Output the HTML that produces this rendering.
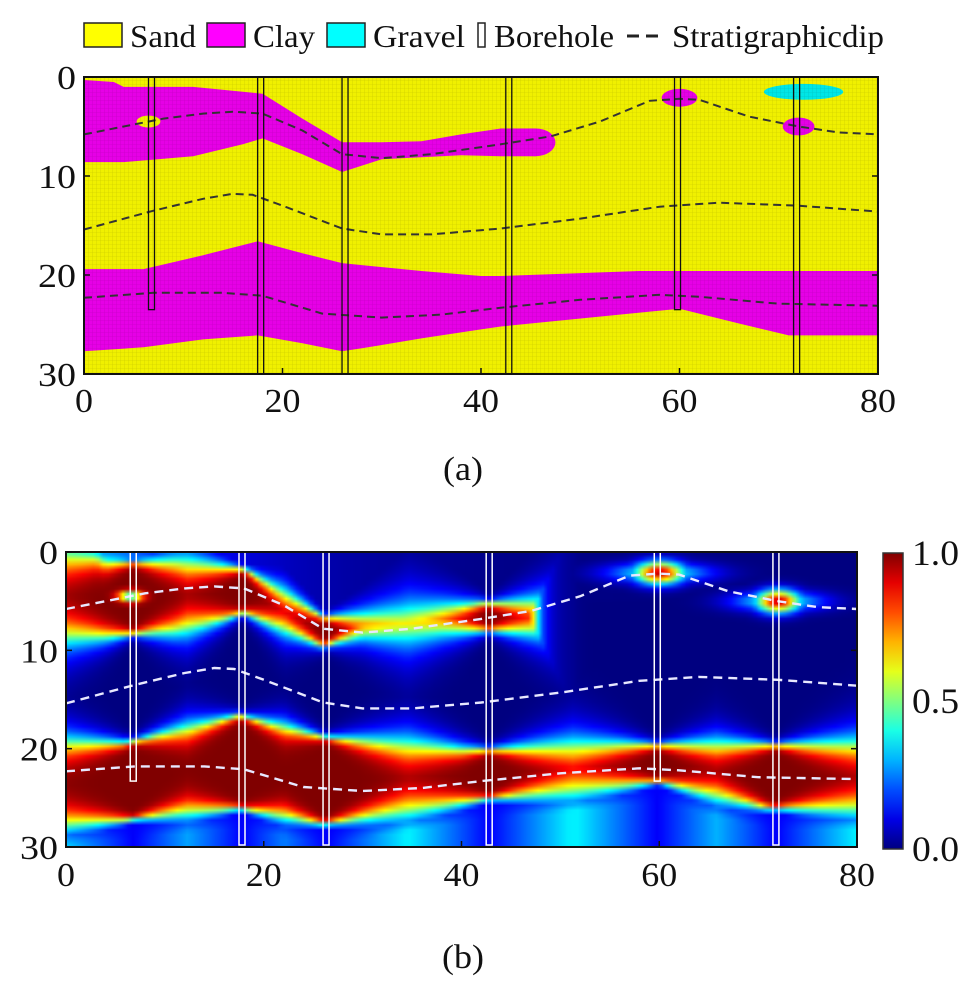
<!DOCTYPE html>
<html><head><meta charset="utf-8">
<style>
html,body{margin:0;padding:0;background:#fff;}
#root{position:relative;width:980px;height:992px;overflow:hidden;background:#fff;}
#heat{position:absolute;left:66px;top:552px;width:791px;height:295px;image-rendering:auto;}
svg{position:absolute;left:0;top:0;}
text{font-family:"Liberation Serif",serif;fill:#111;}
</style></head>
<body>
<div id="root">
<canvas id="heat" width="160" height="60"></canvas>
<svg id="svg" width="980" height="992" viewBox="0 0 980 992"></svg>
</div>
<script>
// ---- data ----
const upperX      = [0,   3,   4,  11,  16,  18,  22,  26,  30,  34,  38,  42,  45.5];
const upperTop    = [0.3, 0.5, 1.0,1.0, 1.5, 1.7, 4.2, 6.6, 6.6, 6.5, 5.8, 5.2, 5.2];
const upperBottom = [8.6, 8.6, 8.6,8.0, 6.8, 6.2, 7.8, 9.6, 8.3, 8.1, 7.9, 8.0, 8.0];
const lowerX      = [0,   6,   12,  17.5, 22,  26,  28,  34,  40,  42,  56,  60,  66,  71,  80];
const lowerTop    = [19.4,19.4,18.0,16.6, 17.8,18.8,19.0,19.6,20.1,20.1,19.6,19.6,19.6,19.6,19.6];
const lowerBottom = [27.7,27.3,26.5,26.1, 26.9,27.7,27.4,26.4,25.5,25.2,23.8,23.4,24.9,26.1,26.1];
const clayBlobs   = [[60,2.1,1.8,0.8],[72,5.0,1.6,0.8]];   // x, depth, rx, ry
const sandHoles   = [[6.5,4.5,1.2,0.5]];
const gravelBlobs = [[72.5,1.5,4.0,0.7]];
const dipX  = [0,4,8,12,15,18,22,26,30,35,42,47,52,57,60,62,67,72,76,80];
const dip1  = [5.8,5.0,4.2,3.7,3.5,3.7,5.4,7.8,8.2,7.8,6.8,6.0,4.5,2.4,2.2,2.3,4.0,5.0,5.6,5.8];
const dip2X = [0,7,12,15,17,20,26,30,35,42,50,58,64,72,80];
const dip2  = [15.4,13.5,12.3,11.8,11.9,13.0,15.3,15.9,15.9,15.3,14.3,13.1,12.7,13.0,13.6];
const dip3X = [0,7,14,18,24,30,36,42,50,58,62,70,80];
const dip3  = [22.3,21.8,21.8,22.1,23.9,24.3,24.0,23.3,22.5,22.0,22.2,22.9,23.1];
const boreX     = [6.8,17.8,26.3,42.8,59.8,71.8];
const boreDepth = [23.5,30,30,30,23.5,30];
const xTicks = [0,20,40,60,80];
const yTicks = [0,10,20,30];
const cbTicks = [0.0,0.5,1.0];
const legendLabels = ["Sand","Clay","Gravel","Borehole","Stratigraphicdip"];

// ---- scales ----
const A = {x0:84,x1:878,y0:77,y1:374};
const B = {x0:66,x1:857,y0:552,y1:847};
const sx = (P,v)=>P.x0+v*(P.x1-P.x0)/80;
const sy = (P,v)=>P.y0+v*(P.y1-P.y0)/30;
const NS="http://www.w3.org/2000/svg";
const svg=document.getElementById('svg');
function mk(tag,attrs,parent){const e=document.createElementNS(NS,tag);for(const k in attrs)e.setAttribute(k,attrs[k]);(parent||svg).appendChild(e);return e;}
function interp(xs,ys,x){if(x<=xs[0])return ys[0];for(let i=1;i<xs.length;i++){if(x<=xs[i]){const t=(x-xs[i-1])/(xs[i]-xs[i-1]);return ys[i-1]+t*(ys[i]-ys[i-1]);}}return ys[ys.length-1];}
function pathOf(P,xs,ys){return xs.map((x,i)=>(i?'L':'M')+sx(P,x).toFixed(1)+','+sy(P,ys[i]).toFixed(1)).join(' ');}
function polyOf(P,xs,top,bot){let d=xs.map((x,i)=>(i?'L':'M')+sx(P,x).toFixed(1)+','+sy(P,top[i]).toFixed(1)).join(' ');for(let i=xs.length-1;i>=0;i--)d+=' L'+sx(P,xs[i]).toFixed(1)+','+sy(P,bot[i]).toFixed(1);return d+'Z';}
function label(g,x,y,str,size,anchor,len){const t=mk('text',{x:x,y:y,'font-size':size,'text-anchor':anchor,textLength:len,lengthAdjust:'spacingAndGlyphs'},g);t.textContent=str;return t;}

// ---- legend ----
const lg=mk('g',{},svg);

const legX=[84,207,327,478,627];
const legLen=[66,62,92,120,212];
const legCol=['#ffff00','#ff00ff','#00ffff',null,null];
legendLabels.forEach((lab,i)=>{
  const g=mk('g',{},lg);
  
  
  let tx;
  if(legCol[i]){mk('rect',{x:legX[i],y:23,width:38,height:24,fill:legCol[i],stroke:'#222','stroke-width':1.5},g);tx=legX[i]+46;}
  else if(lab==='Borehole'){mk('rect',{x:legX[i],y:23,width:7,height:24,fill:'#fff',stroke:'#222','stroke-width':1.5},g);tx=legX[i]+16;}
  else {mk('line',{x1:legX[i],y1:36,x2:legX[i]+34,y2:36,stroke:'#222','stroke-width':3,'stroke-dasharray':'12,7'},g);tx=legX[i]+45;}
  label(g,tx,47,lab,32,'start',legLen[i]);
});

// ---- panel (a) ----
const pa=mk('g',{},svg);

mk('rect',{x:A.x0,y:A.y0,width:A.x1-A.x0,height:A.y1-A.y0,fill:'#f0f000'},pa);
const pat=mk('pattern',{id:'grid',width:4,height:4,patternUnits:'userSpaceOnUse'},mk('defs',{},svg));
mk('path',{d:'M4,0 L0,0 0,4',fill:'none',stroke:'rgba(0,0,0,0.16)','stroke-width':0.6},pat);
const cu=mk('path',{d:polyOf(A,upperX,upperTop,upperBottom),fill:'#e600e6'},pa);

mk('ellipse',{cx:sx(A,45.5),cy:sy(A,6.6),rx:2*9.925,ry:1.4*9.9,fill:'#e600e6'},pa);
const cl=mk('path',{d:polyOf(A,lowerX,lowerTop,lowerBottom),fill:'#e600e6'},pa);

clayBlobs.forEach(b=>{const e=mk('ellipse',{cx:sx(A,b[0]),cy:sy(A,b[1]),rx:b[2]*9.925,ry:b[3]*9.9+1,fill:'#e600e6'},pa);});
sandHoles.forEach(b=>{mk('ellipse',{cx:sx(A,b[0]),cy:sy(A,b[1]),rx:b[2]*9.925,ry:b[3]*9.9+1,fill:'#f0f000'},pa);});
gravelBlobs.forEach(b=>{const e=mk('ellipse',{cx:sx(A,b[0]),cy:sy(A,b[1]),rx:b[2]*9.925,ry:b[3]*9.9+1,fill:'#00e6e6'},pa);});
mk('rect',{x:A.x0,y:A.y0,width:A.x1-A.x0,height:A.y1-A.y0,fill:'url(#grid)'},pa);
[[dipX,dip1],[dip2X,dip2],[dip3X,dip3]].forEach((d,i)=>{const p=mk('path',{d:pathOf(A,d[0],d[1]),fill:'none',stroke:'#333','stroke-width':2,'stroke-dasharray':'8,5'},pa);});
boreX.forEach((x,i)=>{const r=mk('rect',{x:sx(A,x)-3,y:A.y0,width:6,height:sy(A,boreDepth[i])-A.y0,fill:'none',stroke:'#111','stroke-width':1.3},pa);});

function axes(P,g,xlabY,ylabX){
  mk('rect',{x:P.x0,y:P.y0,width:P.x1-P.x0,height:P.y1-P.y0,fill:'none',stroke:'#111','stroke-width':2},g);
  xTicks.forEach(v=>{const x=sx(P,v);mk('line',{x1:x,y1:P.y1,x2:x,y2:P.y1-6,stroke:'#111','stroke-width':1.5},g);
    const t=label(g,x,xlabY,String(v),34,'middle',String(v).length*18);
    });
  yTicks.forEach(v=>{const y=sy(P,v);mk('line',{x1:P.x0,y1:y,x2:P.x0+6,y2:y,stroke:'#111','stroke-width':1.5},g);mk('line',{x1:P.x1,y1:y,x2:P.x1-6,y2:y,stroke:'#111','stroke-width':1.5},g);
    const t=label(g,ylabX,y+12,String(v),34,'end',String(v).length*19);
    });
}
axes(A,pa,412,76);
const ca=label(svg,463,480,'(a)',34,'middle',40);


// ---- panel (b) heatmap ----
function jet(v){v=Math.max(0,Math.min(1,v));const r=Math.min(4*v-1.5,-4*v+4.5),g=Math.min(4*v-0.5,-4*v+3.5),b=Math.min(4*v+0.5,-4*v+2.5);return [r,g,b].map(c=>Math.round(255*Math.max(0,Math.min(1,c))));}
function boreDist(x){let m=1e9;boreX.forEach(b=>m=Math.min(m,Math.abs(x-b)));return m;}
function layerVal(d,w){return d>0?0.5+0.5*Math.tanh(d/w):0.5*Math.exp(d/(w*0.8));}
const cv=document.getElementById('heat');const ctx=cv.getContext('2d');
const W=cv.width,H=cv.height,img=ctx.createImageData(W,H);
const upEnd=upperX[upperX.length-1]+2;
for(let j=0;j<H;j++)for(let i=0;i<W;i++){
  const x=(i+0.5)*80/W,y=(j+0.5)*30/H;
  const bd=boreDist(x);
  const w=0.35+0.3*bd;
  let dU=Math.min(y-interp(upperX,upperTop,x),interp(upperX,upperBottom,x)-y);
  if(x>upEnd-2)dU=Math.min(dU,(upEnd-x)*2);
  const dL=Math.min(y-interp(lowerX,lowerTop,x),interp(lowerX,lowerBottom,x)-y);
  const wL=0.35+0.22*bd;
  let v=Math.max(layerVal(dU,w),layerVal(dL,wL));
  clayBlobs.forEach(b=>{const q=Math.pow((x-b[0])/b[2],2)+Math.pow((y-b[1])/b[3],2);const qh=Math.pow((x-b[0])/(b[2]*3.5),2)+Math.pow((y-b[1])/(b[3]*1.5),2);v=Math.max(v,Math.exp(-q*0.5)*0.95,0.42*Math.exp(-qh*1.5));});
  sandHoles.forEach(b=>{const q=Math.pow((x-b[0])/b[2],2)+Math.pow((y-b[1])/b[3],2);v=v*(1-0.7*Math.exp(-q));});
  const lb=interp(lowerX,lowerBottom,x);
  if(y>lb)v=Math.max(v,0.12+0.24*Math.min(1,(y-lb)/2)*Math.min(1,bd/8));
  const ut=interp(upperX,upperTop,x);
  if(y<ut)v=Math.max(v,0.4*Math.exp(-x/12));
  const c=jet(v);const k=(j*W+i)*4;img.data[k]=c[0];img.data[k+1]=c[1];img.data[k+2]=c[2];img.data[k+3]=255;
}
ctx.putImageData(img,0,0);

const pb=mk('g',{},svg);

[[dipX,dip1],[dip2X,dip2],[dip3X,dip3]].forEach((d,i)=>{const p=mk('path',{d:pathOf(B,d[0],d[1]),fill:'none',stroke:'#e8e8ff','stroke-width':2.4,'stroke-dasharray':'9,6'},pb);});
boreX.forEach((x,i)=>{const r=mk('rect',{x:sx(B,x)-3,y:B.y0,width:6,height:sy(B,boreDepth[i])-B.y0-2,fill:'none',stroke:'#fff','stroke-width':1.5},pb);});
axes(B,pb,886,58);

// colorbar
const defs=mk('defs',{},svg);
const lgd=mk('linearGradient',{id:'jet',x1:0,y1:1,x2:0,y2:0},defs);
for(let s=0;s<=10;s++){const c=jet(s/10);mk('stop',{offset:s/10,'stop-color':'rgb('+c.join(',')+')'},lgd);}
const cb=mk('g',{},svg);
const CB={x:883,y0:553,y1:849,w:20};
mk('rect',{x:CB.x,y:CB.y0,width:CB.w,height:CB.y1-CB.y0,fill:'url(#jet)',stroke:'#333','stroke-width':1.5},cb);
cbTicks.forEach(v=>{const y=CB.y1-v*(CB.y1-CB.y0);const t=label(cb,912,y+12,v.toFixed(1),36,'start',47);});
const cbc=label(svg,463,968,'(b)',34,'middle',42);

</script>
</body></html>
